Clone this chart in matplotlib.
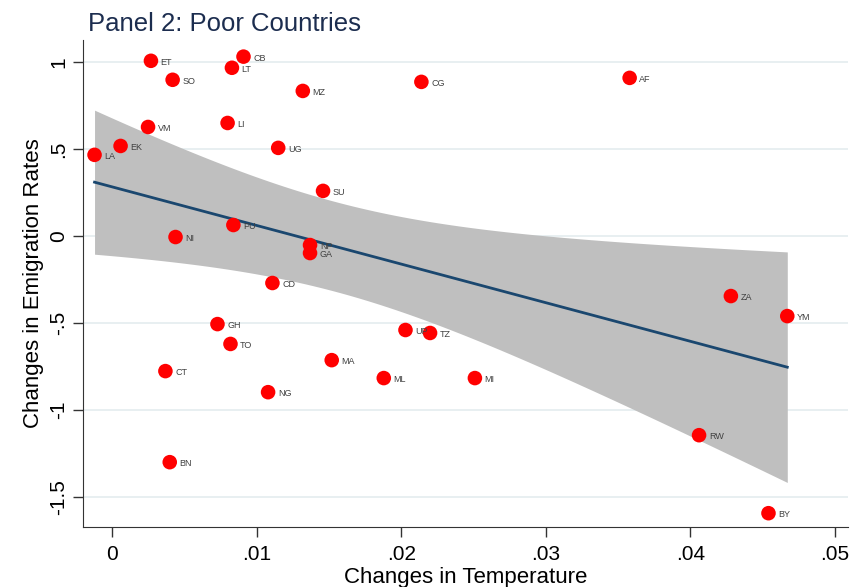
import numpy as np
import matplotlib.pyplot as plt

plt.rcParams['font.family'] = ['Liberation Sans', 'DejaVu Sans']

# country codes, change in temperature, change in emigration rate
codes = ['ET', 'CB', 'LT', 'SO', 'MZ', 'CG', 'AF', 'LI', 'VM', 'EK', 'LA',
         'UG', 'SU', 'PU', 'NI', 'NP', 'GA', 'CD', 'GH', 'TO', 'CT', 'MA',
         'NG', 'ML', 'MI', 'UP', 'TZ', 'ZA', 'YM', 'RW', 'BY', 'BN']
temp = [0.0027, 0.0091, 0.0083, 0.0042, 0.0132, 0.0214, 0.0358, 0.0080,
        0.0025, 0.0006, -0.0012, 0.0115, 0.0146, 0.0084, 0.0044, 0.0137,
        0.0137, 0.0111, 0.0073, 0.0082, 0.0037, 0.0152, 0.0108, 0.0188,
        0.0251, 0.0203, 0.0220, 0.0428, 0.0467, 0.0406, 0.0454, 0.0040]
emig = [1.006, 1.03, 0.966, 0.897, 0.833, 0.885, 0.908, 0.649, 0.626,
        0.517, 0.466, 0.506, 0.259, 0.063, -0.006, -0.052, -0.098, -0.27,
        -0.506, -0.62, -0.776, -0.713, -0.897, -0.816, -0.816, -0.54,
        -0.557, -0.345, -0.46, -1.144, -1.592, -1.299]

xticks = [0, 0.01, 0.02, 0.03, 0.04, 0.05]
xticklabels = ['0', '.01', '.02', '.03', '.04', '.05']
yticks = [-1.5, -1, -0.5, 0, 0.5, 1]
yticklabels = ['-1.5', '-1', '-.5', '0', '.5', '1']

x = np.array(temp)
y = np.array(emig)

# OLS fit with 95% CI of the mean prediction (like Stata lfitci)
n = len(x)
b, a = np.polyfit(x, y, 1)
resid = y - (a + b * x)
s = np.sqrt(np.sum(resid ** 2) / (n - 2))
sxx = np.sum((x - x.mean()) ** 2)
t = 2.042
xs = np.linspace(x.min(), x.max(), 100)
yhat = a + b * xs
se = s * np.sqrt(1.0 / n + (xs - x.mean()) ** 2 / sxx)

fig = plt.figure(figsize=(8.51, 5.87), dpi=100)
ax = fig.add_axes([0.0975, 0.102, 0.899, 0.83])

ax.fill_between(xs, yhat - t * se, yhat + t * se, color='#bfbfbf', lw=0, zorder=1)
ax.plot(xs, yhat, color='#1a476f', lw=2, zorder=2)
ax.scatter(x, y, s=110, color='#ff0000', edgecolors='none', zorder=3)
for c, xi, yi in zip(codes, x, y):
    ax.annotate(c, (xi, yi), xytext=(7, -1), textcoords='offset points',
                fontsize=6.5, color='#404040', va='center', zorder=4)

ax.set_xlim(-0.0020, 0.0509)
ax.set_ylim(-1.672, 1.126)
ax.set_xticks(xticks)
ax.set_xticklabels(xticklabels, fontsize=15)
ax.set_yticks(yticks)
ax.set_yticklabels(yticklabels, fontsize=15, rotation=90, va='center')
ax.grid(axis='y', color='#e6eef0', lw=1.3, zorder=0)
ax.set_axisbelow(True)
ax.tick_params(direction='out', length=7, width=1, color='#333333')
ax.tick_params(axis='x', pad=6)
for side in ['top', 'right']:
    ax.spines[side].set_visible(False)
for side in ['left', 'bottom']:
    ax.spines[side].set_color('#333333')

ax.set_xlabel('Changes in Temperature', fontsize=16, labelpad=2)
ax.set_ylabel('Changes in Emigration Rates', fontsize=16, labelpad=4)
fig.text(0.103, 0.938, 'Panel 2: Poor Countries', fontsize=18.5, color='#1c2d4f',
         ha='left', va='bottom')

fig.savefig('out.png', dpi=100)
